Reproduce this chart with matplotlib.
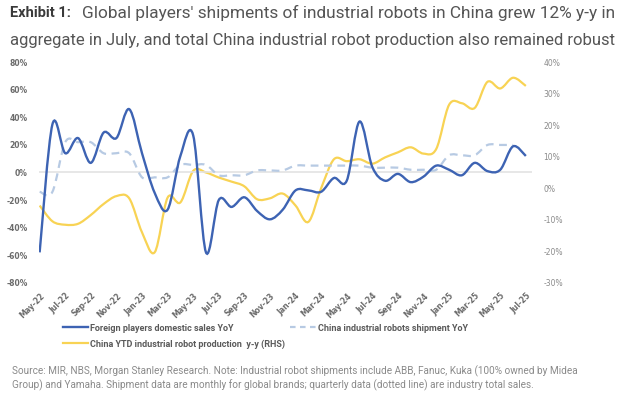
import numpy as np
import matplotlib
matplotlib.use("Agg")
import matplotlib.pyplot as plt
from matplotlib.path import Path
from matplotlib.patches import PathPatch
from matplotlib.lines import Line2D

# months May-22 .. Jul-25
month_labels = ["May-22", "Jun-22", "Jul-22", "Aug-22", "Sep-22", "Oct-22", "Nov-22", "Dec-22",
                "Jan-23", "Feb-23", "Mar-23", "Apr-23", "May-23", "Jun-23", "Jul-23", "Aug-23",
                "Sep-23", "Oct-23", "Nov-23", "Dec-23", "Jan-24", "Feb-24", "Mar-24", "Apr-24",
                "May-24", "Jun-24", "Jul-24", "Aug-24", "Sep-24", "Oct-24", "Nov-24", "Dec-24",
                "Jan-25", "Feb-25", "Mar-25", "Apr-25", "May-25", "Jun-25", "Jul-25"]

# foreign players domestic sales YoY (%), LHS
foreign_yoy = [-58, 35, 14, 25, 7, 29, 25, 46,
               14, -15, -27, 12, 27, -58, -20, -25,
               -18, -28, -34, -27, -13, -13, -14, -4,
               -6, 37, 4, -6, -1, -7, -3, 5,
               2, -2, 7, 1, 2, 19, 12]

# China industrial robots shipment YoY (%), quarterly, LHS
shipment_yoy = [-14, -14, 22, 22, 22, 14, 14, 14,
                -3.5, -3.5, -3.5, 5.5, 5.5, 5.5, -2, -2,
                -2, 1.5, 1.5, 1.5, 5, 5, 5, 5,
                5, 5, 3.5, 3.5, 3.5, 2, 2, 2,
                12.5, 12.5, 12.5, 20, 20, 20]

# China YTD industrial robot production y-y (%), RHS
production_ytd = [-5.5, -10.5, -11.6, -11.3, -8.5, -5, -2.5, -3.2,
                  -14, -20.3, -3, -4.5, 5.5, 5, 3.4, 2.1,
                  0.6, -3.5, -3.2, -1.7, -5.5, -10.7, 0, 9.2,
                  8.6, 9.2, 7.8, 9.8, 11.4, 13, 11, 12.5,
                  26.5, 27, 25.5, 33.8, 31.7, 35.1, 32.5]

left_ticks = [-80, -60, -40, -20, 0, 20, 40, 60, 80]
right_ticks = [-30, -20, -10, 0, 10, 20, 30, 40]

BLUE = "#3d63b3"
LIGHTBLUE = "#b7cae3"
YELLOW = "#f8d354"


def smooth_path(yvals):
    # Excel-style smoothed line: cubic bezier through each point
    p = np.column_stack([np.arange(len(yvals)), np.asarray(yvals, float)])
    pad = np.vstack([p[0], p, p[-1]])
    verts = [p[0]]
    codes = [Path.MOVETO]
    for i in range(len(p) - 1):
        p0, p1, p2, p3 = pad[i], pad[i + 1], pad[i + 2], pad[i + 3]
        verts += [p1 + (p2 - p0) / 6, p2 - (p3 - p1) / 6, p2]
        codes += [Path.CURVE4] * 3
    return Path(verts, codes)


fig = plt.figure(figsize=(6.22, 3.97), dpi=100)
ax = fig.add_axes([0.0627, 0.288, 0.793, 0.555])
ax2 = ax.twinx()

ax.axhline(0, color="#e3e3e3", lw=1.2, zorder=1)

ax.add_patch(PathPatch(smooth_path(shipment_yoy), fill=False, ec=LIGHTBLUE, lw=1.6,
                       ls=(0, (3.5, 2.5)), zorder=2))
ax2.add_patch(PathPatch(smooth_path(production_ytd), fill=False, ec=YELLOW, lw=1.6, zorder=3))
ax.set_zorder(ax2.get_zorder() + 1)
ax.patch.set_visible(False)
ax.add_patch(PathPatch(smooth_path(foreign_yoy), fill=False, ec=BLUE, lw=1.7, zorder=4))

ax.set_xlim(-0.05, 38.5)
ax.set_ylim(-80, 80)
ax2.set_ylim(-30, 40)

ax.set_yticks(left_ticks)
ax.set_yticklabels([f"{t}%" for t in left_ticks])
ax2.set_yticks(right_ticks)
ax2.set_yticklabels([f"{t}%" for t in right_ticks])

xt = list(range(0, len(month_labels), 2))
ax.set_xticks(xt)
ax.set_xticklabels([month_labels[i] for i in xt], rotation=45, ha="right",
                   rotation_mode="anchor")

for a in (ax, ax2):
    for s in a.spines.values():
        s.set_visible(False)
    a.tick_params(length=0, labelsize=5.5, colors="#6b6b6b")
ax.tick_params(axis="y", pad=8)
ax2.tick_params(axis="y", pad=8, colors="#8a8a8a")
ax.tick_params(axis="x", pad=6)
for lab in ax.get_yticklabels() + ax.get_xticklabels():
    lab.set_fontweight("bold")

handles = [Line2D([], [], color=BLUE, lw=1.7),
           Line2D([], [], color=YELLOW, lw=1.6),
           Line2D([], [], color=LIGHTBLUE, lw=1.6, ls=(0, (2.5, 2)))]
labels = ["Foreign players domestic sales YoY",
          "China YTD industrial robot production  y-y (RHS)",
          "China industrial robots shipment YoY"]
fig.legend(handles, labels, ncol=2, loc="upper left", bbox_to_anchor=(58 / 622, 1 - 319 / 397),
           frameon=False, borderpad=0, handlelength=2.8, handletextpad=0.25,
           columnspacing=0.6, labelspacing=0.75,
           prop={"family": "Roboto", "size": 6.5, "weight": "bold"}, labelcolor="#5a5a5a")

fig.text(10 / 622, 1 - 13 / 397, "Exhibit 1:", family="Roboto", weight="bold", size=10.5,
         color="#3a3a3a", va="center")
fig.text(82 / 622, 1 - 13 / 397,
         "Global players' shipments of industrial robots in China grew 12% y-y in",
         family="Roboto", size=12.4, color="#555555", va="center")
fig.text(10 / 622, 1 - 40 / 397,
         "aggregate in July, and total China industrial robot production also remained robust",
         family="Roboto", size=12, color="#555555", va="center")

fig.text(12 / 622, 1 - 371 / 397,
         "Source: MIR, NBS, Morgan Stanley Research. Note: Industrial robot shipments include ABB, "
         "Fanuc, Kuka (100% owned by Midea", family="Roboto", size=7.2, color="#8a8a8a",
         va="center")
fig.text(12 / 622, 1 - 385 / 397,
         "Group) and Yamaha. Shipment data are monthly for global brands; quarterly data "
         "(dotted line) are industry total sales.", family="Roboto", size=7.2, color="#8a8a8a",
         va="center")

fig.savefig("out.png", dpi=100)
